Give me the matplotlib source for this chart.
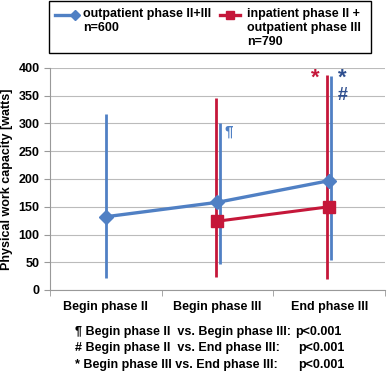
import matplotlib
matplotlib.use("Agg")
import matplotlib.pyplot as plt
from matplotlib.lines import Line2D
from matplotlib.patches import Rectangle

plt.rcParams['font.family'] = ['Liberation Sans', 'DejaVu Sans']
plt.rcParams['font.weight'] = 'bold'

categories = ["Begin phase II", "Begin phase III", "End phase III"]
blue_label = "outpatient phase II+III\nn=600"
red_label = "inpatient phase II +\noutpatient phase III\nn=790"

blue_x = [0, 1, 2]
blue_mean = [132, 158, 197]
blue_low = [21, 47, 54]
blue_high = [318, 301, 385]

red_x = [1, 2]
red_mean = [124, 150]
red_low = [23, 20]
red_high = [346, 387]

foot_left = ["¶ Begin phase II  vs. Begin phase III:",
             "# Begin phase II  vs. End phase III:",
             "* Begin phase III vs. End phase III:"]
foot_p = ["p<0.001", "p<0.001", "p<0.001"]

BLUE = '#5080C4'
RED = '#C5173A'
DARKBLUE = '#2F4F8F'

W, H = 387, 373
fig = plt.figure(figsize=(W / 100, H / 100), dpi=100)
ax = fig.add_axes([50 / W, 1 - 290 / H, 335 / W, 222 / H])

ax.set_xlim(-0.5, 2.5)
ax.set_ylim(0, 400)
ax.set_yticks(range(0, 401, 50))
ax.yaxis.grid(True, color='#BBBBBB', linewidth=0.8)
ax.set_axisbelow(True)

# error bars (vertical lines)
boff = [0.0, 0.025, 0.015]
roff = [-0.01, -0.02]
for x, lo, hi, o in zip(blue_x, blue_low, blue_high, boff):
    ax.vlines(x + o, lo, hi, color=BLUE, linewidth=2.0, zorder=2)
for x, lo, hi, o in zip(red_x, red_low, red_high, roff):
    ax.vlines(x + o, lo, hi, color=RED, linewidth=2.0, zorder=2)

ax.plot(red_x, red_mean, color=RED, linewidth=2.2, marker='s', markersize=9,
        zorder=3)
ax.plot(blue_x, blue_mean, color=BLUE, linewidth=2.4, marker='D', markersize=7,
        zorder=4)

# significance marks
ax.text(1.06, 285, "¶", color=BLUE, fontsize=11, ha='left', va='center',
        fontweight='bold')
ax.text(1.88, 382, "*", color=RED, fontsize=16, ha='center', va='center',
        fontweight='bold')
ax.text(2.12, 382, "*", color=DARKBLUE, fontsize=16, ha='center', va='center',
        fontweight='bold')
ax.text(2.12, 350, "#", color=DARKBLUE, fontsize=13, ha='center', va='center',
        fontweight='bold')

# axes styling
for s in ['top', 'right']:
    ax.spines[s].set_visible(False)
ax.spines['left'].set_color('#999999')
ax.spines['bottom'].set_color('#999999')
ax.set_xticks([0, 1, 2])
ax.set_xticklabels(categories, fontsize=9, fontweight='bold')
ax.set_xticks([-0.5, 0.5, 1.5, 2.5], minor=True)
ax.tick_params(axis='x', which='major', length=0, pad=8)
ax.tick_params(axis='x', which='minor', length=4, color='#999999')
ax.tick_params(axis='y', length=4, color='#999999', labelsize=9)
for lab in ax.get_yticklabels():
    lab.set_fontweight('bold')
ax.set_ylabel("Physical work capacity [watts]", fontsize=9, fontweight='bold',
              labelpad=4)

# legend (drawn manually to align handles with first text line)
def px(x, y):
    return x / W, 1 - y / H

fig.patches.append(Rectangle(px(49, 53), 322 / W, 52 / H, transform=fig.transFigure,
                             fill=False, edgecolor='black', linewidth=1.0))
fig.lines.append(Line2D([55 / W, 75 / W], [1 - 15 / H] * 2, color=BLUE, linewidth=2.4,
                        marker='D', markersize=5.5, markevery=[1], transform=fig.transFigure))
fig.lines.append(Line2D([220 / W, 240 / W], [1 - 15 / H] * 2, color=RED, linewidth=2.4,
                        transform=fig.transFigure))
fig.lines.append(Line2D([230 / W], [1 - 15 / H], color=RED, marker='s', markersize=6,
                        linestyle='none', transform=fig.transFigure))
fig.text(*px(83, 8), blue_label, fontsize=9, fontweight='bold', ha='left', va='top',
         linespacing=1.2)
fig.text(*px(247, 8), red_label, fontsize=9, fontweight='bold', ha='left', va='top',
         linespacing=1.2)

# footnotes
for i, (l, p) in enumerate(zip(foot_left, foot_p)):
    y = 332 + i * 16.5
    fig.text(*px(75, y), l, fontsize=9, fontweight='bold', ha='left', va='center')
    fig.text(*px(295 if i == 0 else 298, y), p, fontsize=9, fontweight='bold',
             ha='left', va='center')

fig.savefig("out.png", dpi=100)
